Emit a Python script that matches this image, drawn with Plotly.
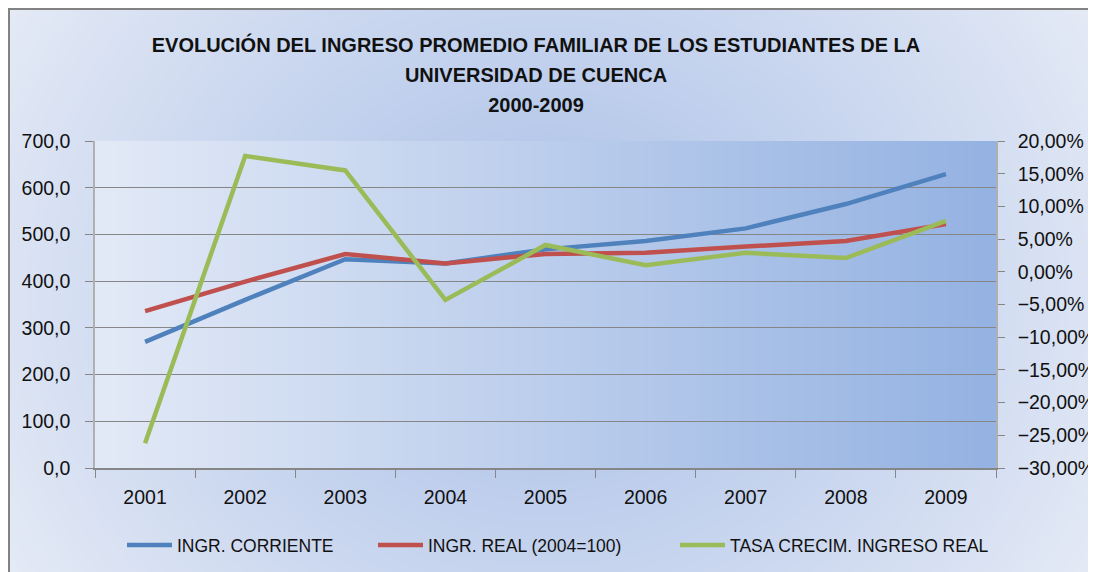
import base64
import struct
import zlib

import numpy as np
import plotly.graph_objects as go

# ---------------- data ----------------
years = ["2001", "2002", "2003", "2004", "2005", "2006", "2007", "2008", "2009"]
ingr_corriente = [270, 360, 447, 438, 468, 486, 513, 565, 629]
ingr_real = [336, 399, 458, 438, 458, 461, 474, 486, 522]
tasa_crecim = [-26.2, 17.7, 15.5, -4.3, 4.1, 1.0, 2.9, 2.1, 7.8]

series_names = ["INGR. CORRIENTE", "INGR. REAL (2004=100)", "TASA CRECIM. INGRESO REAL"]
series_colors = ["#4F81BD", "#C0504D", "#9BBB59"]
title_lines = [
    "EVOLUCIÓN DEL INGRESO PROMEDIO FAMILIAR DE LOS ESTUDIANTES DE LA",
    "UNIVERSIDAD DE CUENCA",
    "2000-2009",
]

# ---------------- layout geometry (figure pixels; page adds 8px body margin) ----------------
W, H = 1088, 564
ML, MT = 87, 133
PW, PH = 901, 327
MR, MB = W - ML - PW, H - MT - PH


# ---------------- background image (gradients) ----------------
def make_png(arr):
    h, w, _ = arr.shape
    raw = b"".join(b"\x00" + arr[i].tobytes() for i in range(h))

    def chunk(tag, data):
        c = struct.pack(">I", len(data)) + tag + data
        return c + struct.pack(">I", zlib.crc32(tag + data) & 0xFFFFFFFF)

    png = b"\x89PNG\r\n\x1a\n"
    png += chunk(b"IHDR", struct.pack(">IIBBBBB", w, h, 8, 2, 0, 0, 0))
    png += chunk(b"IDAT", zlib.compress(raw, 9))
    png += chunk(b"IEND", b"")
    return png


yy, xx = np.mgrid[0:H, 0:W].astype(float)
cx, cy = 540, H / 2
d = np.sqrt(((xx - cx) / (W / 2)) ** 2 + ((yy - cy) / (H / 2 * 1.7)) ** 2)
t = np.clip(d / 1.15, 0, 1)[..., None]
c_center = np.array([168, 190, 231], float)
c_edge = np.array([228, 234, 246], float)
img = c_center * (1 - t) + c_edge * t

# plot area linear gradient
px0, px1, py0, py1 = ML, ML + PW, MT, MT + PH
tx = ((np.arange(px0, px1) - px0) / (px1 - px0))[None, :, None]
c_left = np.array([227, 234, 247], float)
c_right = np.array([148, 178, 226], float)
img[py0:py1, px0:px1] = c_left * (1 - tx) + c_right * tx

# chart frame (top / left edges)
img[0:2, :] = [130, 130, 130]
img[:, 0:2] = [130, 130, 130]
img = img.astype(np.uint8)
bg_uri = "data:image/png;base64," + base64.b64encode(make_png(img)).decode()

# ---------------- figure ----------------
legend_names = ["legend", "legend2", "legend3"]
fig = go.Figure()
fig.add_trace(go.Scatter(x=years, y=ingr_corriente, name=series_names[0], mode="lines",
                         line=dict(color=series_colors[0], width=4.5), legend=legend_names[0]))
fig.add_trace(go.Scatter(x=years, y=ingr_real, name=series_names[1], mode="lines",
                         line=dict(color=series_colors[1], width=4.5), legend=legend_names[1]))
fig.add_trace(go.Scatter(x=years, y=tasa_crecim, name=series_names[2], mode="lines",
                         line=dict(color=series_colors[2], width=4.5), yaxis="y2",
                         legend=legend_names[2]))

FONT = "Liberation Sans, Arial, sans-serif"
tick_font = dict(family=FONT, size=19.5, color="#111111")
legend_font = dict(family=FONT, size=17.5, color="#111111")

leg_y = -(537 - (MT + PH)) / PH
leg_starts = [119, 370, 672]  # figure-pixel x of each legend sample start


def legend_cfg(x_px):
    return dict(
        orientation="h", x=(x_px - ML - 5) / PW, xanchor="left",
        y=leg_y, yanchor="middle", bgcolor="rgba(0,0,0,0)",
        font=legend_font, itemwidth=45, borderwidth=0,
    )


title_text = "<br>".join(f"<span style='font-size:20px'>{ln}</span>" for ln in title_lines)

fig.update_layout(
    width=W, height=H,
    margin=dict(l=ML, r=MR, t=MT, b=MB, autoexpand=False),
    paper_bgcolor="white",
    plot_bgcolor="rgba(0,0,0,0)",
    separators=",.",
    title=dict(
        text=title_text,
        x=528 / W, xanchor="center", xref="container",
        y=1 - 44 / H, yanchor="middle", yref="container",
        font=dict(family=FONT, size=23, color="#111111", weight="bold"),
    ),
    xaxis=dict(
        type="category", range=[-0.5, 8.5], tickson="boundaries",
        ticks="outside", ticklen=8, tickcolor="#868686",
        showline=True, linecolor="#868686", linewidth=1.5,
        showgrid=False, tickfont=tick_font, ticklabelstandoff=11,
    ),
    yaxis=dict(
        range=[0, 700], dtick=100, tickformat=".1f",
        ticks="outside", ticklen=8, tickcolor="#868686",
        showline=True, linecolor="#B0B0B0", linewidth=1.5,
        showgrid=True, gridcolor="#868686", gridwidth=1.2,
        zeroline=False, tickfont=tick_font, ticklabelstandoff=11,
    ),
    yaxis2=dict(
        range=[-30, 20], dtick=5, tickformat=".2f", ticksuffix="%",
        overlaying="y", side="right",
        ticks="outside", ticklen=7, tickcolor="#868686",
        showline=True, linecolor="#B0B0B0", linewidth=1.5,
        showgrid=False, zeroline=False, tickfont=tick_font, ticklabelstandoff=9,
    ),
    legend=legend_cfg(leg_starts[0]),
    legend2=legend_cfg(leg_starts[1]),
    legend3=legend_cfg(leg_starts[2]),
    images=[dict(
        source=bg_uri, xref="paper", yref="paper",
        x=-ML / PW, y=1 + MT / PH, sizex=W / PW, sizey=H / PH,
        xanchor="left", yanchor="top", sizing="stretch", layer="below",
    )],
    showlegend=True,
)

fig.write_html(
    "out.html",
    config={"displayModeBar": False},
    post_script="document.body.style.marginBottom='0px';"
                "document.documentElement.style.overflow='hidden';",
)
